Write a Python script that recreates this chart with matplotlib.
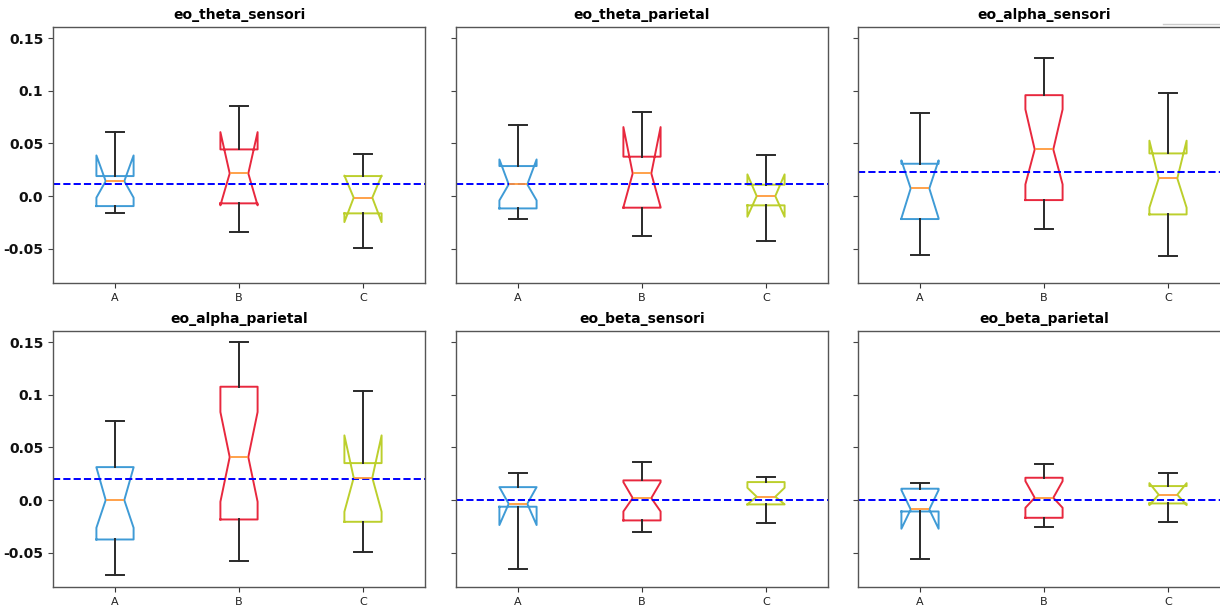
import matplotlib
matplotlib.use('Agg')
import matplotlib.pyplot as plt
from matplotlib.lines import Line2D

titles = ['eo_theta_sensori', 'eo_theta_parietal', 'eo_alpha_sensori',
          'eo_alpha_parietal', 'eo_beta_sensori', 'eo_beta_parietal']
groups = ['A', 'B', 'C']

# per panel, per group (A, B, C)
whis_lo = [[-0.0158, -0.0342, -0.0490],
           [-0.0218, -0.0382, -0.0430],
           [-0.0556, -0.0313, -0.0569],
           [-0.0709, -0.0576, -0.0491],
           [-0.0652, -0.0304, -0.0215],
           [-0.0557, -0.0256, -0.0206]]
q1 = [[-0.0095, -0.0069, -0.0164],
      [-0.0117, -0.0110, -0.0088],
      [-0.0218, -0.0038, -0.0174],
      [-0.0374, -0.0184, -0.0206],
      [-0.0063, -0.0193, -0.0041],
      [-0.0108, -0.0168, -0.0032]]
med = [[0.0142, 0.0215, -0.0015],
       [0.0111, 0.0215, 0.0000],
       [0.0073, 0.0443, 0.0168],
       [0.0000, 0.0408, 0.0212],
       [-0.0035, 0.0019, 0.0032],
       [-0.0089, 0.0022, 0.0051]]
q3 = [[0.0190, 0.0443, 0.0190],
      [0.0285, 0.0374, 0.0108],
      [0.0307, 0.0958, 0.0405],
      [0.0313, 0.1076, 0.0351],
      [0.0123, 0.0187, 0.0171],
      [0.0108, 0.0212, 0.0133]]
whis_hi = [[0.0607, 0.0854, 0.0402],
           [0.0671, 0.0800, 0.0389],
           [0.0785, 0.1306, 0.0977],
           [0.0750, 0.1500, 0.1032],
           [0.0260, 0.0358, 0.0222],
           [0.0158, 0.0345, 0.0253]]
ci_lo = [[-0.0015, -0.0088, -0.0247],
         [-0.0041, -0.0105, -0.0196],
         [-0.0210, 0.0111, -0.0110],
         [-0.0263, -0.0016, -0.0111],
         [-0.0237, -0.0108, -0.0040],
         [-0.0272, -0.0073, -0.0048]]
ci_hi = [[0.0386, 0.0607, 0.0195],
         [0.0348, 0.0655, 0.0206],
         [0.0339, 0.0823, 0.0526],
         [0.0310, 0.0836, 0.0614],
         [0.0123, 0.0170, 0.0117],
         [0.0095, 0.0180, 0.0161]]
ref_line = [0.0117, 0.0117, 0.0228, 0.0203, 0.0004, 0.0]

box_colors = ['#3f9bd6', '#e8283e', '#bccf2c']
yticks = [-0.05, 0.0, 0.05, 0.1, 0.15]
ytick_labels = ['-0.05', '0.0', '0.05', '0.1', '0.15']

fig = plt.figure(figsize=(12.2, 6.06), dpi=100)

lefts = [53 / 1220, 456 / 1220, 858 / 1220]
bottoms = [323 / 606, 19 / 606]
w, h = 372 / 1220, 256 / 606

ax0 = None
for i, title in enumerate(titles):
    row, col = divmod(i, 3)
    ax = fig.add_axes([lefts[col], bottoms[row], w, h], sharey=ax0)
    if ax0 is None:
        ax0 = ax

    stats = []
    for j, g in enumerate(groups):
        stats.append(dict(label=g, whislo=whis_lo[i][j], q1=q1[i][j], med=med[i][j],
                          q3=q3[i][j], whishi=whis_hi[i][j], cilo=ci_lo[i][j],
                          cihi=ci_hi[i][j], fliers=[]))

    parts = ax.bxp(stats, positions=[1, 2, 3], widths=0.3, shownotches=True,
                   showfliers=False,
                   whiskerprops=dict(color='#2a2a2a', lw=1.4),
                   capprops=dict(color='#2a2a2a', lw=1.4),
                   medianprops=dict(color='#ff9a3c', lw=1.3))
    for b, c in zip(parts['boxes'], box_colors):
        b.set_color(c)
        b.set_linewidth(1.4)

    ax.axhline(ref_line[i], color='blue', ls='--', lw=1.4)

    ax.set_title(title, fontsize=10, fontweight='bold')
    ax.set_xlim(0.5, 3.5)
    ax.set_ylim(-0.0825, 0.1605)
    ax.set_yticks(yticks)
    ax.tick_params(axis='x', labelsize=8, colors='#333333', labelcolor='#222222')
    ax.tick_params(axis='y', colors='#444444')
    if col == 0:
        ax.set_yticklabels(ytick_labels, fontsize=10, fontweight='bold', color='#111111')
    else:
        ax.tick_params(axis='y', labelleft=False)
    for s in ax.spines.values():
        s.set_color('#555555')
        s.set_linewidth(1.0)

# faint frame edge visible at the top right of the original
fig.add_artist(Line2D([1163 / 1220, 1.0], [582 / 606, 582 / 606],
                      color='#cccccc', lw=1.0))

fig.savefig('out.png', dpi=100)
